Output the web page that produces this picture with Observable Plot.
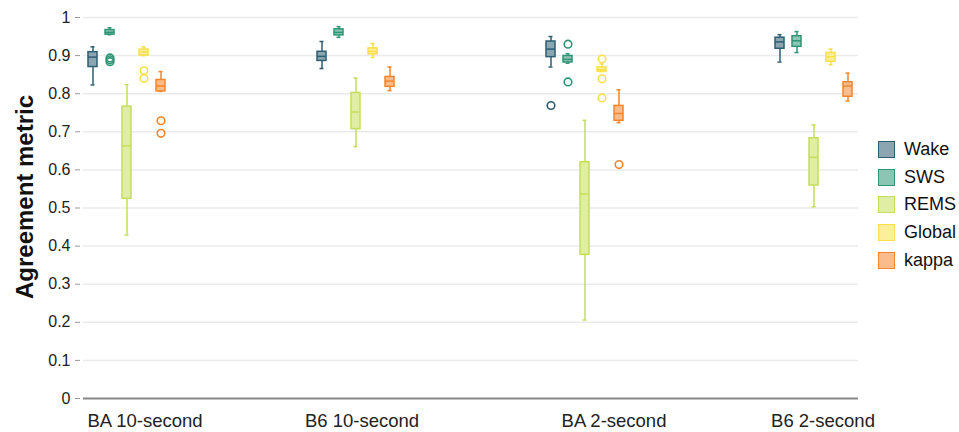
<!DOCTYPE html>
<html>
<head>
<meta charset="utf-8">
<script src="https://cdn.jsdelivr.net/npm/d3@7"></script>
<script src="https://cdn.jsdelivr.net/npm/@observablehq/plot@0.6"></script>
<style>
  html, body { margin: 0; padding: 0; background: #fff; }
  body { width: 959px; height: 432px; position: relative; overflow: hidden; font-family: "Liberation Sans", Arial, sans-serif; }
  #chart { position: absolute; left: 0; top: 0; }
  #legend { position: absolute; left: 878px; top: 136px; }
  .item { display: flex; align-items: center; height: 27.6px; font-size: 18px; color: #111; }
  .sw { width: 15px; height: 15px; border: 1.6px solid; margin-right: 9px; }
</style>
</head>
<body>
<div id="chart"></div>
<div id="legend"></div>
<script>
const groups = ["BA 10-second", "B6 10-second", "BA 2-second", "B6 2-second"];
const metrics = ["Wake", "SWS", "REMS", "Global", "kappa"];
const strokeColors = ["#2d5e72", "#2e9676", "#c4de5c", "#f9e04a", "#f5852a"];
const yTicks = [0, 0.1, 0.2, 0.3, 0.4, 0.5, 0.6, 0.7, 0.8, 0.9, 1];
// small horizontal nudges of the group labels, as in the original figure
const labelNudge = [18, 6, 29, 9];

// per group: [whisker low, Q1, median, Q3, whisker high]
const wakeStats = [[0.823, 0.870, 0.896, 0.909, 0.923], [0.866, 0.886, 0.898, 0.910, 0.937], [0.870, 0.896, 0.917, 0.937, 0.950], [0.883, 0.918, 0.936, 0.947, 0.955]];
const swsStats = [[0.955, 0.955, 0.961, 0.967, 0.973], [0.948, 0.953, 0.961, 0.969, 0.976], [0.880, 0.882, 0.890, 0.899, 0.905], [0.908, 0.923, 0.939, 0.951, 0.963]];
const remsStats = [[0.429, 0.524, 0.663, 0.766, 0.824], [0.661, 0.707, 0.752, 0.802, 0.841], [0.206, 0.377, 0.537, 0.620, 0.730], [0.503, 0.559, 0.633, 0.683, 0.718]];
const globalStats = [[0.900, 0.900, 0.910, 0.916, 0.923], [0.895, 0.903, 0.911, 0.919, 0.932], [0.858, 0.858, 0.863, 0.869, 0.878], [0.876, 0.884, 0.897, 0.907, 0.917]];
const kappaStats = [[0.806, 0.806, 0.820, 0.836, 0.858], [0.808, 0.818, 0.833, 0.844, 0.870], [0.724, 0.729, 0.748, 0.768, 0.810], [0.781, 0.792, 0.820, 0.830, 0.854]];

// outliers: [group, value]
const wakeOutliers = [["BA 2-second", 0.769]];
const swsOutliers = [["BA 10-second", 0.894], ["BA 10-second", 0.889], ["BA 10-second", 0.884], ["BA 2-second", 0.930], ["BA 2-second", 0.831]];
const remsOutliers = [];
const globalOutliers = [["BA 10-second", 0.860], ["BA 10-second", 0.840], ["BA 2-second", 0.891], ["BA 2-second", 0.839], ["BA 2-second", 0.789]];
const kappaOutliers = [["BA 10-second", 0.729], ["BA 10-second", 0.696], ["BA 2-second", 0.614]];

const allStats = [wakeStats, swsStats, remsStats, globalStats, kappaStats];
const allOutliers = [wakeOutliers, swsOutliers, remsOutliers, globalOutliers, kappaOutliers];

const fillColors = strokeColors.map(c => d3.interpolateRgb(c, "#ffffff")(0.45));

const boxMarks = [];
metrics.forEach((m, i) => {
  const rows = allStats[i].map((s, j) => ({group: groups[j], lo: s[0], q1: s[1], med: s[2], q3: s[3], hi: s[4]}));
  const outs = allOutliers[i].map(([g, v]) => ({group: g, value: v}));
  const dx = (i - 2) * 17;
  const stroke = strokeColors[i];
  boxMarks.push(
    Plot.ruleX(rows, {x: "group", y1: "lo", y2: "hi", stroke, strokeWidth: 1.5, dx}),
    Plot.barY(rows, {x: "group", y1: "q1", y2: "q3", fill: fillColors[i], stroke, strokeWidth: 1.5, dx}),
    Plot.tickY(rows, {x: "group", y: "med", stroke, strokeWidth: 1.5, dx}),
    Plot.tickY(rows, {x: "group", y: "lo", stroke, strokeWidth: 1.5, insetLeft: 2.5, insetRight: 2.5, dx}),
    Plot.tickY(rows, {x: "group", y: "hi", stroke, strokeWidth: 1.5, insetLeft: 2.5, insetRight: 2.5, dx}),
    Plot.dot(outs, {x: "group", y: "value", r: 3.8, stroke, strokeWidth: 1.6, fill: "none", dx})
  );
});

const chart = Plot.plot({
  width: 959,
  height: 432,
  marginLeft: 83,
  marginRight: 101,
  marginTop: 17,
  marginBottom: 34,
  style: {fontFamily: "'Liberation Sans', Arial, sans-serif", color: "#222", background: "#fff"},
  x: {domain: groups, paddingInner: 0.959, paddingOuter: 0.168},
  y: {domain: [0, 1]},
  marks: [
    Plot.gridY(yTicks, {stroke: "#ebebeb", strokeOpacity: 1, strokeWidth: 1.5}),
    Plot.axisY(yTicks, {tickSize: 5, dx: -3, tickPadding: 5, fontSize: 16, stroke: "#999", label: null,
      tickFormat: d => String(+d.toFixed(1))}),
    ...groups.map((g, j) => Plot.axisX([g], {tickSize: 0, tickPadding: 15, fontSize: 18.5, label: null, dx: labelNudge[j]})),
    Plot.text(["Agreement metric"], {frameAnchor: "left", textAnchor: "middle", rotate: -90, dx: -58, dy: -11, fontSize: 24, fontWeight: "bold", fill: "#111"}),
    ...boxMarks,
    Plot.ruleY([0], {stroke: "#8a8a8a", strokeWidth: 2})
  ]
});
document.getElementById("chart").appendChild(chart);

const legend = document.getElementById("legend");
metrics.forEach((m, i) => {
  const item = document.createElement("div");
  item.className = "item";
  const sw = document.createElement("div");
  sw.className = "sw";
  sw.style.borderColor = strokeColors[i];
  sw.style.background = fillColors[i];
  const label = document.createElement("span");
  label.textContent = m;
  item.appendChild(sw);
  item.appendChild(label);
  legend.appendChild(item);
});
</script>
</body>
</html>
